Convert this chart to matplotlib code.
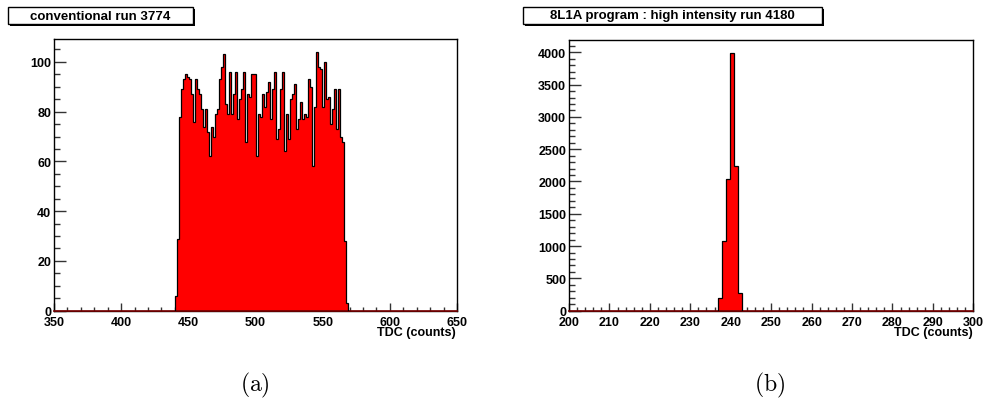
import matplotlib
matplotlib.use("Agg")
import matplotlib.pyplot as plt
import matplotlib.patches as patches
from matplotlib.ticker import MultipleLocator
import numpy as np

# panel (a): conventional run 3774, 1.5 TDC wide bins starting at 440
a_title = "conventional run 3774"
a_start = 440.0
a_width = 1.5
a_counts = [6, 29,
            78, 89, 93, 95, 94, 93, 87, 76, 93, 89,
            87, 81, 74, 81, 72, 62, 74, 70, 79, 81,
            93, 98, 103, 83, 79, 96, 79, 87, 96, 77,
            85, 89, 96, 68, 87, 86, 95, 95, 62, 79,
            78, 87, 82, 88, 92, 77, 89, 96, 69, 73,
            89, 96, 64, 79, 69, 85, 87, 91, 73, 77,
            84, 77, 79, 78, 93, 90, 58, 82, 104, 98,
            97, 82, 100, 85, 86, 75, 81, 89, 73, 89,
            70, 68,
            28, 3]
a_xlim = (350, 650)

# panel (b): 8L1A program, high intensity run 4180, 1 TDC bins
b_title = "8L1A program : high intensity run 4180"
b_start = 236.75
b_width = 1.0
b_counts = [200, 1080, 2035, 3995, 2245, 270]
b_xlim = (200, 300)

x_label = "TDC (counts)"

W, H = 985, 402
plt.rcParams["font.family"] = ["Liberation Sans", "DejaVu Sans"]
plt.rcParams["font.weight"] = "bold"
plt.rcParams["mathtext.fontset"] = "cm"

fig = plt.figure(figsize=(W / 100, H / 100), dpi=100)


def px_axes(x0, y0, x1, y1):
    # pixel box (top-left origin) -> figure fraction
    return fig.add_axes([x0 / W, 1 - y1 / H, (x1 - x0) / W, (y1 - y0) / H])


def title_box(x0, y0, x1, y1, text):
    shadow = patches.Rectangle((x0 / W + 2 / W, 1 - (y1 + 2) / H), (x1 - x0) / W, (y1 - y0) / H,
                               transform=fig.transFigure, facecolor="black", edgecolor="none")
    box = patches.Rectangle((x0 / W, 1 - y1 / H), (x1 - x0) / W, (y1 - y0) / H,
                            transform=fig.transFigure, facecolor="white", edgecolor="black", lw=1)
    fig.patches.append(shadow)
    fig.patches.append(box)
    fig.text((x0 + x1) / 2 / W, 1 - (y0 + y1) / 2 / H, text, ha="center", va="center",
             fontsize=9.5, fontweight="bold")


def style_axes(ax, xlim, ylim, xmaj, xmin, ymaj, ymin):
    ax.set_xlim(*xlim)
    ax.set_ylim(*ylim)
    ax.xaxis.set_major_locator(MultipleLocator(xmaj))
    ax.xaxis.set_minor_locator(MultipleLocator(xmin))
    ax.yaxis.set_major_locator(MultipleLocator(ymaj))
    ax.yaxis.set_minor_locator(MultipleLocator(ymin))
    ax.tick_params(axis="both", which="both", direction="in", width=1, color="#333333",
                   labelsize=9, top=False, right=False)
    ax.tick_params(axis="x", which="major", length=5.8, pad=4)
    ax.tick_params(axis="x", which="minor", length=2.9)
    ax.tick_params(axis="y", which="major", length=8.6, pad=2)
    ax.tick_params(axis="y", which="minor", length=4.3)
    for lab in ax.get_xticklabels() + ax.get_yticklabels():
        lab.set_fontweight("bold")
    for s in ax.spines.values():
        s.set_linewidth(1)
    ax.text(0.998, -0.058, x_label, transform=ax.transAxes, ha="right", va="top",
            fontsize=9, fontweight="bold")


def draw_hist(ax, start, width, counts, xlim):
    edges = start + width * np.arange(len(counts) + 1)
    ax.plot(xlim, [0, 0], color="#7a0000", lw=1.2, zorder=3, clip_on=False)
    ax.stairs(counts, edges, fill=True, color="#ff0000", zorder=2)
    ax.stairs(counts, edges, color="black", lw=0.9, zorder=3)


# left panel
ax_a = px_axes(54, 40, 457, 311.7)
draw_hist(ax_a, a_start, a_width, a_counts, a_xlim)
style_axes(ax_a, a_xlim, (0, max(a_counts) * 1.05), 50, 10, 20, 5)
title_box(8, 8, 193, 25, a_title)

# right panel
ax_b = px_axes(569, 40.7, 973.3, 311.7)
draw_hist(ax_b, b_start, b_width, b_counts, b_xlim)
style_axes(ax_b, b_xlim, (0, max(b_counts) * 1.05), 10, 2, 500, 100)
title_box(523, 8, 822, 25, b_title)

# sub-figure captions
fig.text(255 / W, 1 - 385 / H, r"$\mathrm{(a)}$", ha="center", va="center", fontsize=17)
fig.text(770 / W, 1 - 385 / H, r"$\mathrm{(b)}$", ha="center", va="center", fontsize=17)

fig.savefig("out.png", dpi=100)
